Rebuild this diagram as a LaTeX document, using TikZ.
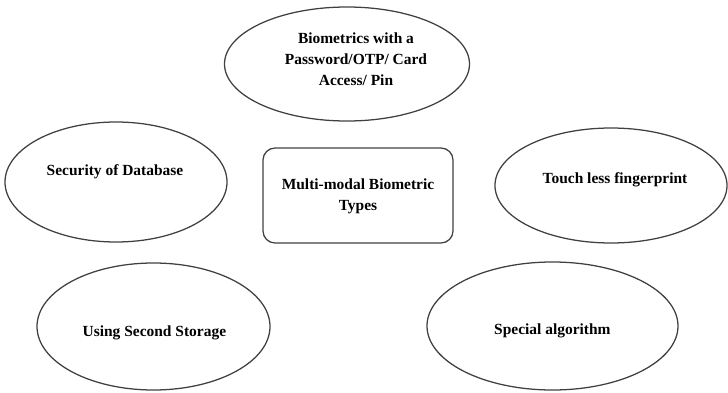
\documentclass[tikz,border=0pt]{standalone}
\usepackage{fontspec}
\setmainfont{Liberation Serif}
\usepackage{tikz}
\usetikzlibrary{shapes.geometric}

\tikzset{
  oval/.style={draw=black!75, line width=0.9pt, ellipse, inner sep=0pt},
  typebox/.style={draw=black!75, line width=0.9pt, rounded corners=0.3cm, inner sep=0pt},
  lbl/.style={font=\fontsize{11}{15}\selectfont\bfseries, align=center, inner sep=0pt}
}

\begin{document}
\begin{tikzpicture}
			\useasboundingbox (0,0) rectangle (18.2,9.8);
			% outer shapes
			\node[oval, minimum width=6.125cm, minimum height=2.85cm] (pin) at (8.675,8.2) {};
			\node[oval, minimum width=5.55cm, minimum height=3.0cm] (db) at (2.9,5.25) {};
			\node[oval, minimum width=5.8cm, minimum height=2.875cm] (touch) at (15.275,5.1625) {};
			\node[oval, minimum width=5.825cm, minimum height=3.175cm] (store) at (3.8375,1.6375) {};
			\node[oval, minimum width=6.275cm, minimum height=3.2cm] (algo) at (13.8125,1.65) {};
			\node[typebox, minimum width=4.75cm, minimum height=2.375cm] (types) at (8.95,4.9125) {};
			% labels
			\node[lbl] (pinlbl) at (8.9,8.33) {Biometrics with a\\Password/OTP/ Card\\Access/ Pin};
			\node[lbl] (dblbl) at (2.875,5.5) {Security of Database};
			\node[lbl] (touchlbl) at (15.375,5.3) {Touch less fingerprint};
			\node[lbl] (storelbl) at (3.86,1.475) {Using Second Storage};
			\node[lbl] (algolbl) at (13.81,1.525) {Special algorithm};
			\node[lbl] (typeslbl) at (8.95,4.89) {Multi-modal Biometric\\Types};
		\end{tikzpicture}
\end{document}
